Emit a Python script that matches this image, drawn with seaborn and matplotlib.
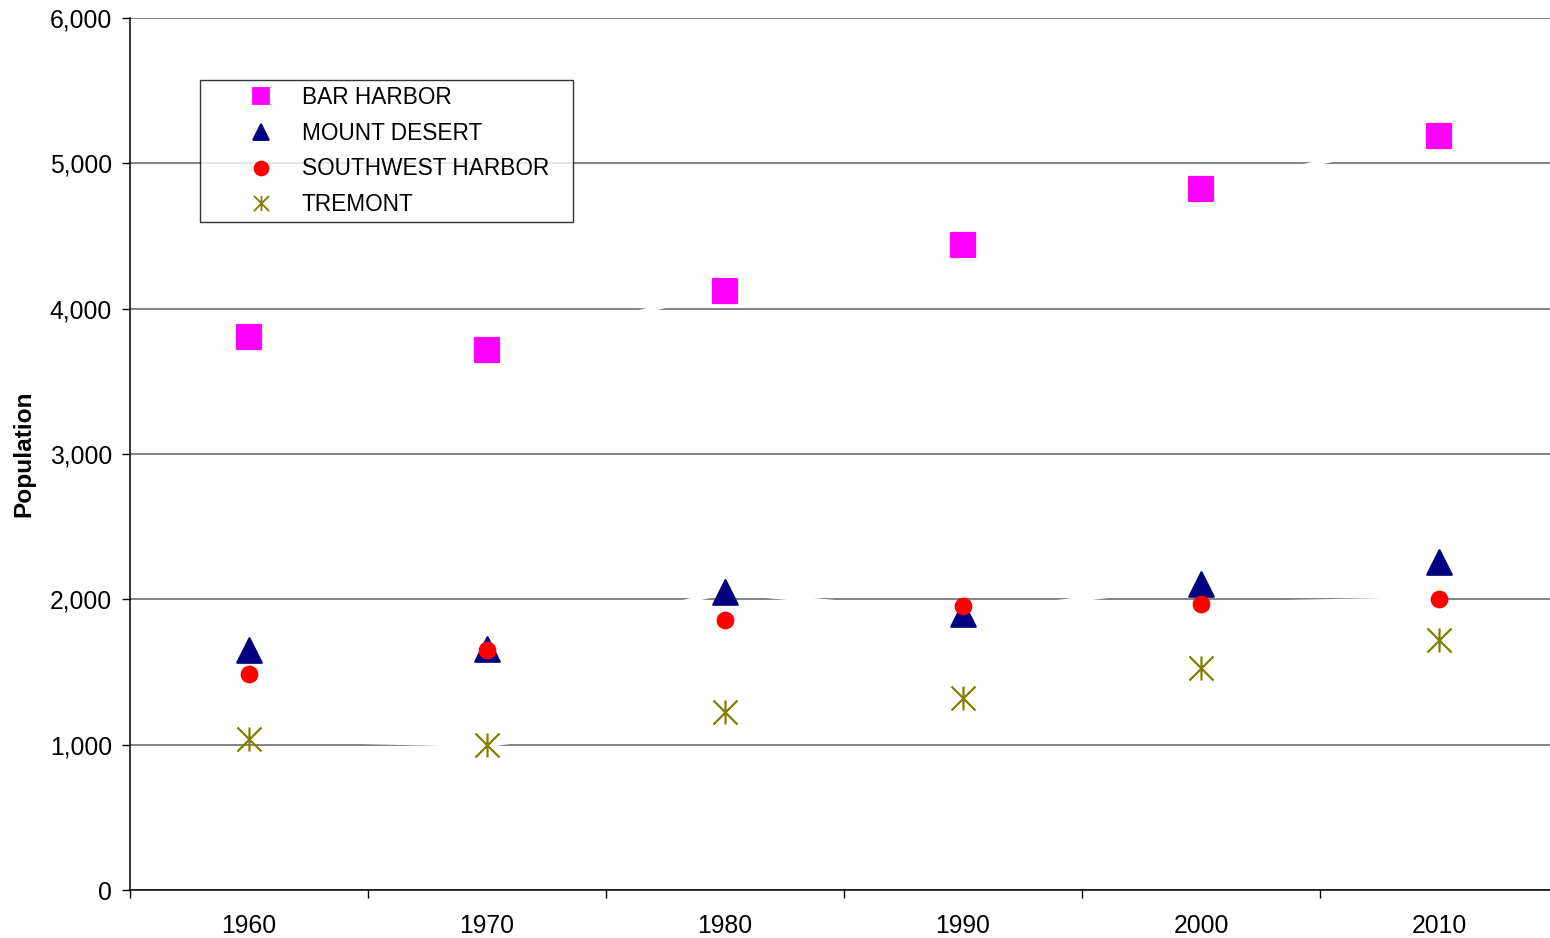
import numpy as np
import pandas as pd
import seaborn as sns
import matplotlib.pyplot as plt
from matplotlib.path import Path
from matplotlib.lines import Line2D
from matplotlib.ticker import FuncFormatter, MultipleLocator

years = [1960, 1970, 1980, 1990, 2000, 2010]
towns = ["BAR HARBOR", "MOUNT DESERT", "SOUTHWEST HARBOR", "TREMONT"]
bar_harbor = [3805, 3716, 4122, 4438, 4823, 5188]
mount_desert = [1651, 1655, 2050, 1899, 2105, 2257]
southwest_harbor = [1486, 1651, 1858, 1954, 1968, 2002]
tremont = [1039, 998, 1225, 1321, 1528, 1720]

colors = {"BAR HARBOR": "#FF00FF", "MOUNT DESERT": "#000080",
          "SOUTHWEST HARBOR": "#FF0000", "TREMONT": "#808000"}

# asterisk made of an x and a vertical bar
star = Path([(-1, -1), (1, 1), (-1, 1), (1, -1), (0, -1), (0, 1)],
            [Path.MOVETO, Path.LINETO, Path.MOVETO, Path.LINETO, Path.MOVETO, Path.LINETO])
markers = {"BAR HARBOR": "s", "MOUNT DESERT": "^", "SOUTHWEST HARBOR": "o", "TREMONT": star}
sizes = {"BAR HARBOR": 290, "MOUNT DESERT": 310, "SOUTHWEST HARBOR": 125, "TREMONT": 300}

df = pd.DataFrame({
    "year": years * 4,
    "town": np.repeat(towns, len(years)),
    "population": bar_harbor + mount_desert + southwest_harbor + tremont,
})

sns.set_style("white")
plt.rcParams["font.family"] = ["Liberation Sans", "DejaVu Sans"]
plt.rcParams["text.color"] = "black"
plt.rcParams["axes.labelcolor"] = "black"
plt.rcParams["xtick.color"] = "black"
plt.rcParams["ytick.color"] = "black"

fig = plt.figure(figsize=(15.5, 9.38), dpi=100)
# plot area runs a little past the right edge of the picture, as in the original
ax = fig.add_axes([130 / 1550, 48 / 938, 1428 / 1550, 872 / 938])
ax.set_axisbelow(True)
ax.yaxis.grid(True, color="#606060", linewidth=1.1)
ax.xaxis.grid(False)

# white connecting lines (they cut the gridlines like in the original)
sns.lineplot(data=df, x="year", y="population", hue="town",
             palette={t: "white" for t in towns}, linewidth=3.2,
             legend=False, ax=ax, zorder=1)

for t in towns:
    sub = df[df["town"] == t]
    sns.scatterplot(data=sub, x="year", y="population", color=colors[t],
                    marker=markers[t], s=sizes[t], edgecolor="face",
                    linewidth=1.6, legend=False, ax=ax, zorder=3)

ax.set_xlim(1955, 2015)
ax.set_ylim(0, 6000)
ax.set_xticks(years)
ax.set_xticks(np.arange(1955, 2016, 10), minor=True)
ax.yaxis.set_major_locator(MultipleLocator(1000))
ax.yaxis.set_major_formatter(FuncFormatter(lambda v, p: f"{int(v):,}"))
ax.tick_params(axis="x", which="major", length=0, pad=17, labelsize=17.8)
ax.tick_params(axis="x", which="minor", length=5.8, width=1, color="black", direction="out", bottom=True)
ax.tick_params(axis="y", which="major", length=5.8, width=1, color="black", direction="out",
               left=True, pad=7.2, labelsize=17.8)

for s in ["top", "right"]:
    ax.spines[s].set_visible(False)
for s in ["left", "bottom"]:
    ax.spines[s].set_color("black")
    ax.spines[s].set_linewidth(1.1)

ax.set_xlabel("")
ax.set_ylabel("Population", fontsize=17.6, fontweight="bold")
ax.yaxis.set_label_coords(-0.0665, 0.5)

handles = [Line2D([], [], linestyle="none", marker=markers[t], color=colors[t],
                  markerfacecolor=colors[t], markeredgecolor=colors[t],
                  markersize=11 if t != "SOUTHWEST HARBOR" else 10, markeredgewidth=1.3)
           for t in towns]
leg = ax.legend(handles, towns, loc="upper left",
                bbox_to_anchor=(70 / 1428, (890 - 221) / 872, 373 / 1428, 141 / 872),
                mode="expand", borderaxespad=0, fontsize=16.3, frameon=True,
                fancybox=False, shadow=False, borderpad=0.27, labelspacing=0.56,
                handlelength=4.86, handletextpad=-0.63, numpoints=1)
leg.get_frame().set_edgecolor("black")
leg.get_frame().set_linewidth(1.0)

fig.savefig("out.png", dpi=100)
